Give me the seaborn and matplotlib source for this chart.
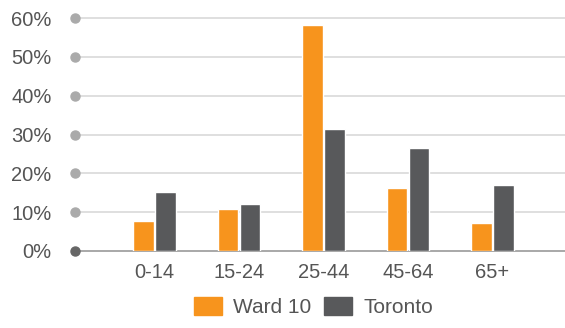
import pandas as pd
import seaborn as sns
import matplotlib.pyplot as plt

ages = ['0-14', '15-24', '25-44', '45-64', '65+']
ward10 = [7.7, 10.8, 58.2, 16.2, 7.2]
toronto = [15.2, 12.1, 31.4, 26.5, 17.0]
yticks = [0, 10, 20, 30, 40, 50, 60]

df = pd.DataFrame({
    'age': ages * 2,
    'share': ward10 + toronto,
    'area': ['Ward 10'] * len(ages) + ['Toronto'] * len(ages),
})

sns.set_style('white')
plt.rcParams['font.family'] = ['Liberation Sans', 'DejaVu Sans']

fig = plt.figure(figsize=(5.65, 3.28), dpi=100)
ax = fig.add_axes([75 / 565, 77 / 328, 490 / 565, 233 / 328])

palette = {'Ward 10': '#F7941D', 'Toronto': '#58595B'}
sns.barplot(data=df, x='age', y='share', hue='area', palette=palette,
            width=0.52, gap=0.07, saturation=1, ax=ax, legend=False, zorder=3)

x0, x1 = -0.94, 4.86
ax.set_xlim(x0, x1)
ax.set_ylim(0, 60)
ax.set_yticks(yticks)
ax.set_yticklabels([f'{t}%' for t in yticks])
for t in yticks:
    ax.axhline(t, xmin=0, xmax=1.2, color='#999999' if t == 0 else '#D9D9D9',
               lw=1.2, zorder=1, clip_on=False)
    ax.plot(x0, t, 'o', ms=6.5, color='#666666' if t == 0 else '#AAAAAA',
            clip_on=False, zorder=4)

for s in ax.spines.values():
    s.set_visible(False)
ax.set_xlabel('')
ax.set_ylabel('')
ax.tick_params(axis='y', length=0, pad=17, labelsize=14.5, labelcolor='#555555')
ax.tick_params(axis='x', length=0, pad=9, labelsize=14.5, labelcolor='#555555')

handles = [plt.Rectangle((0, 0), 1, 1, color=palette[k]) for k in ['Ward 10', 'Toronto']]
fig.legend(handles, ['Ward 10', 'Toronto'], loc='lower center',
           bbox_to_anchor=(0.555, -0.025), ncol=2, frameon=False, fontsize=15,
           handlelength=1.35, handleheight=0.95, handletextpad=0.55,
           columnspacing=0.6, labelcolor='#555555')

fig.savefig('out.png', dpi=100)
